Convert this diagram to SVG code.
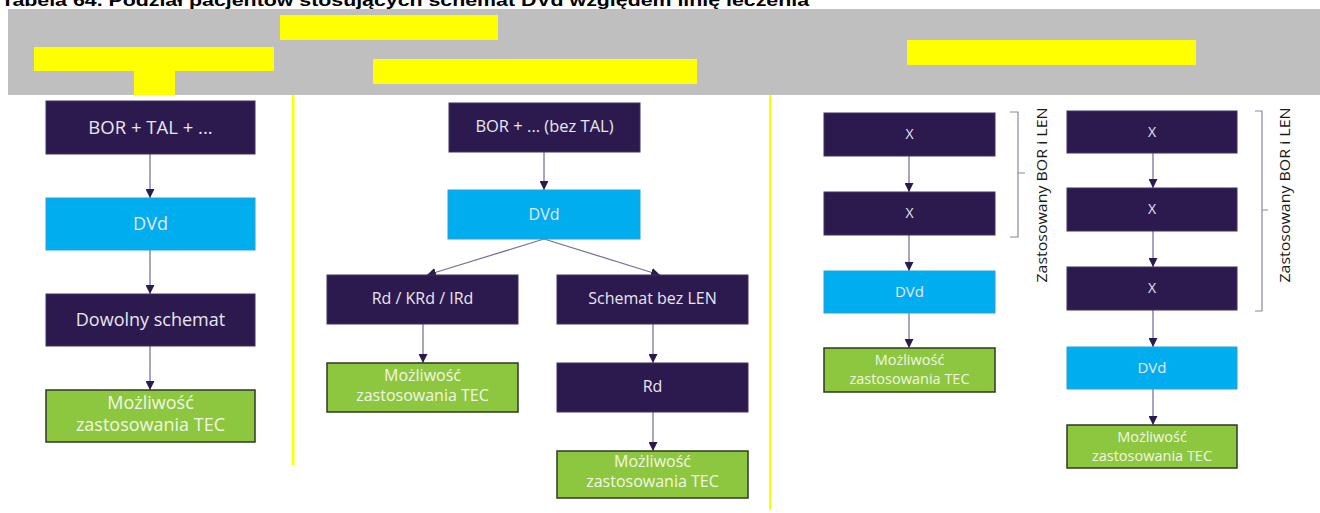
<svg xmlns="http://www.w3.org/2000/svg" width="1320" height="513" viewBox="0 0 1320 513">
<style>
.title{font-family:"Liberation Sans",Arial,sans-serif;font-weight:bold;font-size:16px;fill:#000}
.dark{fill:#2c1a4e;stroke:#3e3163;stroke-width:1}
.blue{fill:#00aeef;stroke:#2a9fd6;stroke-width:1}
.green{fill:#8dc63f;stroke:#2e3a22;stroke-width:1.5}
.t{font-family:"Open Sans","DejaVu Sans",sans-serif;fill:#e8e6f0;text-anchor:middle}
.tg{font-family:"Open Sans","DejaVu Sans",sans-serif;fill:#f2f7e4;text-anchor:middle}
.side{font-family:"Open Sans","DejaVu Sans",sans-serif;fill:#1a1a1a;font-size:14px;text-anchor:middle}
.c{stroke:#7a7598;stroke-width:1.3;fill:none}
.br{stroke:#8a86a6;stroke-width:1.2;fill:none}
.hl{fill:#ffff00}
</style>
<defs>
<marker id="ah" markerUnits="userSpaceOnUse" markerWidth="10" markerHeight="9" refX="9" refY="4.5" orient="auto">
<path d="M0,0 L9,4.5 L0,9 z" fill="#2c1a4e"/>
</marker>
</defs>
<rect x="0" y="0" width="1320" height="513" fill="#ffffff"/>
<text class="title" x="1" y="6" textLength="808" lengthAdjust="spacingAndGlyphs">Tabela 64. Podział pacjentów stosujących schemat DVd względem linię leczenia</text>
<g id="header">
<rect x="8" y="9" width="1312" height="86" fill="#bfbfbf"/>
<rect class="hl" x="280" y="15" width="218" height="25"/>
<rect class="hl" x="34" y="47" width="240" height="24"/>
<rect class="hl" x="134" y="71" width="41" height="24"/>
<rect class="hl" x="373" y="59" width="324" height="25"/>
<rect class="hl" x="907" y="40" width="289" height="25"/>
<rect class="hl" x="292" y="95" width="2.5" height="370"/>
<rect class="hl" x="769" y="95" width="2.5" height="415"/>
</g>
<g id="connectors">
<line class="c" x1="150" y1="154" x2="150" y2="198" marker-end="url(#ah)"/>
<line class="c" x1="150" y1="250" x2="150" y2="294" marker-end="url(#ah)"/>
<line class="c" x1="150" y1="346" x2="150" y2="390" marker-end="url(#ah)"/>
<line class="c" x1="544" y1="152" x2="544" y2="190" marker-end="url(#ah)"/>
<line class="c" x1="544" y1="239" x2="427" y2="275" marker-end="url(#ah)"/>
<line class="c" x1="544" y1="239" x2="660" y2="275" marker-end="url(#ah)"/>
<line class="c" x1="423" y1="324" x2="423" y2="363" marker-end="url(#ah)"/>
<line class="c" x1="653" y1="324" x2="653" y2="363" marker-end="url(#ah)"/>
<line class="c" x1="653" y1="412" x2="653" y2="451" marker-end="url(#ah)"/>
<line class="c" x1="909" y1="156" x2="909" y2="192" marker-end="url(#ah)"/>
<line class="c" x1="909" y1="235" x2="909" y2="271" marker-end="url(#ah)"/>
<line class="c" x1="909" y1="313" x2="909" y2="348" marker-end="url(#ah)"/>
<line class="c" x1="1153" y1="153" x2="1153" y2="188" marker-end="url(#ah)"/>
<line class="c" x1="1153" y1="231" x2="1153" y2="267" marker-end="url(#ah)"/>
<line class="c" x1="1153" y1="310" x2="1153" y2="347" marker-end="url(#ah)"/>
<line class="c" x1="1153" y1="389" x2="1153" y2="425" marker-end="url(#ah)"/>
</g>
<g id="c1-n1"><rect class="dark" x="46" y="101" width="209" height="53"/><text class="t" x="150.5" y="134" font-size="18.5">BOR + TAL + ...</text></g>
<g id="c1-n2"><rect class="blue" x="46" y="198" width="209" height="52"/><text class="t" x="150.5" y="230" font-size="18">DVd</text></g>
<g id="c1-n3"><rect class="dark" x="46" y="294" width="209" height="52"/><text class="t" x="150.5" y="326" font-size="18">Dowolny schemat</text></g>
<g id="c1-n4"><rect class="green" x="46" y="390" width="209" height="52"/><text class="tg" x="150.5" y="409" font-size="18">Możliwość</text><text class="tg" x="150.5" y="431" font-size="18">zastosowania TEC</text></g>
<g id="c2-n1"><rect class="dark" x="449" y="103" width="191" height="49"/><text class="t" x="544.5" y="132" font-size="16.5">BOR + ... (bez TAL)</text></g>
<g id="c2-n2"><rect class="blue" x="448" y="190" width="192" height="49"/><text class="t" x="544" y="220" font-size="16">DVd</text></g>
<g id="c2-n3"><rect class="dark" x="327" y="275" width="191" height="49"/><text class="t" x="422.5" y="304" font-size="16">Rd / KRd / IRd</text></g>
<g id="c2-n4"><rect class="dark" x="557" y="275" width="191" height="49"/><text class="t" x="652.5" y="304" font-size="16">Schemat bez LEN</text></g>
<g id="c2-n5"><rect class="green" x="327" y="363" width="191" height="49"/><text class="tg" x="422.5" y="381" font-size="16">Możliwość</text><text class="tg" x="422.5" y="401" font-size="16">zastosowania TEC</text></g>
<g id="c2-n6"><rect class="dark" x="557" y="363" width="191" height="49"/><text class="t" x="652.5" y="392" font-size="16">Rd</text></g>
<g id="c2-n7"><rect class="green" x="557" y="451" width="191" height="47"/><text class="tg" x="652.5" y="467" font-size="16">Możliwość</text><text class="tg" x="652.5" y="487" font-size="16">zastosowania TEC</text></g>
<g id="c3a-n1"><rect class="dark" x="824" y="113" width="171" height="43"/><text class="t" x="909.5" y="139" font-size="14">X</text></g>
<g id="c3a-n2"><rect class="dark" x="824" y="192" width="171" height="43"/><text class="t" x="909.5" y="218" font-size="14">X</text></g>
<g id="c3a-n3"><rect class="blue" x="824" y="271" width="171" height="42"/><text class="t" x="909.5" y="297" font-size="15">DVd</text></g>
<g id="c3a-n4"><rect class="green" x="824" y="348" width="171" height="44"/><text class="tg" x="909.5" y="365" font-size="14.5">Możliwość</text><text class="tg" x="909.5" y="384" font-size="14.5">zastosowania TEC</text></g>
<g id="c3a-bracket"><path class="br" d="M1010,112 H1018 V237 H1010 M1018,173 H1025"/><text class="side" transform="translate(1047,195) rotate(-90)" textLength="175" lengthAdjust="spacingAndGlyphs">Zastosowany BOR i LEN</text></g>
<g id="c3b-n1"><rect class="dark" x="1067" y="111" width="170" height="42"/><text class="t" x="1152" y="137" font-size="14">X</text></g>
<g id="c3b-n2"><rect class="dark" x="1067" y="188" width="170" height="43"/><text class="t" x="1152" y="214" font-size="14">X</text></g>
<g id="c3b-n3"><rect class="dark" x="1067" y="267" width="170" height="43"/><text class="t" x="1152" y="293" font-size="14">X</text></g>
<g id="c3b-n4"><rect class="blue" x="1067" y="347" width="170" height="42"/><text class="t" x="1152" y="373" font-size="15">DVd</text></g>
<g id="c3b-n5"><rect class="green" x="1067" y="425" width="170" height="43"/><text class="tg" x="1152" y="442" font-size="14.5">Możliwość</text><text class="tg" x="1152" y="461" font-size="14.5">zastosowania TEC</text></g>
<g id="c3b-bracket"><path class="br" d="M1255,111 H1262 V311 H1255 M1262,210 H1268"/><text class="side" transform="translate(1290,195) rotate(-90)" textLength="175" lengthAdjust="spacingAndGlyphs">Zastosowany BOR i LEN</text></g>
</svg>
